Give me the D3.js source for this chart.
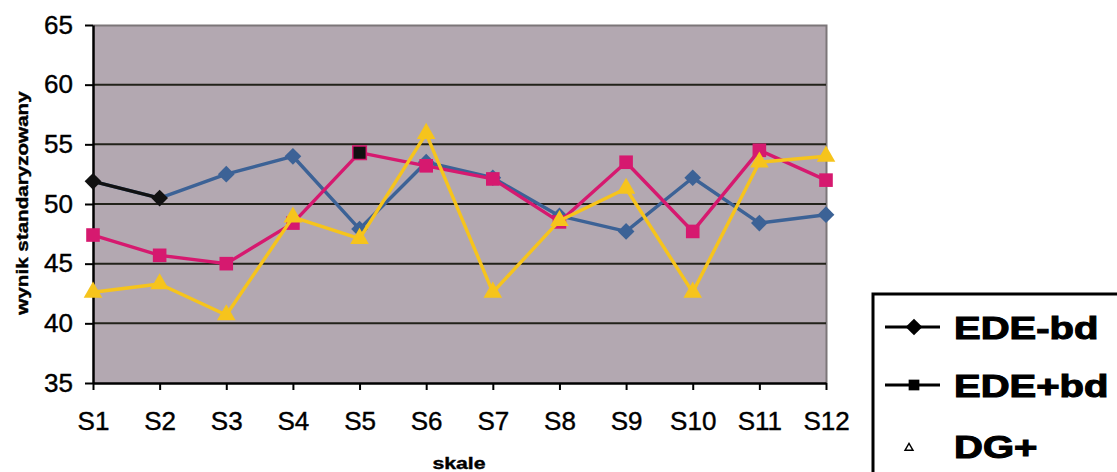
<!DOCTYPE html>
<html>
<head>
<meta charset="utf-8">
<script src="https://cdn.jsdelivr.net/npm/d3@7"></script>
<style>
  html, body { margin: 0; padding: 0; background: #ffffff; }
  svg { display: block; }
</style>
</head>
<body>
<svg id="chart" width="1117" height="472"></svg>
<script>
// Scale labels along the x axis
const categories = ["S1", "S2", "S3", "S4", "S5", "S6", "S7", "S8", "S9", "S10", "S11", "S12"];

// Standardised scores per group
const edeMinusBd = [51.9, 50.5, 52.5, 54.0, 47.9, 53.5, 52.2, 49.0, 47.7, 52.2, 48.4, 49.1];
const edePlusBd  = [47.4, 45.7, 45.0, 48.4, 54.3, 53.2, 52.1, 48.5, 53.5, 47.7, 54.5, 52.0];
const dgPlus     = [42.6, 43.3, 40.7, 48.9, 47.1, 55.9, 42.6, 48.6, 51.3, 42.6, 53.5, 54.0];

const seriesNames = ["EDE-bd", "EDE+bd", "DG+"];
const yTicks = [35, 40, 45, 50, 55, 60, 65];
const xTitle = "skale";
const yTitle = "wynik standaryzowany";

// Diamond = square turned by 45 degrees
const diamond = {
  draw(ctx, size) {
    const r = Math.sqrt(size / 2);
    ctx.moveTo(0, -r); ctx.lineTo(r, 0); ctx.lineTo(0, r); ctx.lineTo(-r, 0); ctx.closePath();
  }
};

// Drawing styles
const styles = [
  { color: "#3c6296", symbol: diamond, size: 140, dark: [0, 1], darkSeg: [0] },
  { color: "#d6196f", symbol: d3.symbolSquare,  size: 185, dark: [4], darkSeg: [] },
  { color: "#f6c41c", symbol: d3.symbolTriangle, size: 150, dark: [], darkSeg: [] }
];
const seriesData = [edeMinusBd, edePlusBd, dgPlus];

const FONT = "Liberation Sans, Arial, sans-serif";
const svg = d3.select("#chart");
const plot = { left: 93, right: 826, top: 25, bottom: 383 };

const x = d3.scalePoint().domain(categories).range([plot.left, plot.right]);
const y = d3.scaleLinear().domain([35, 65]).range([plot.bottom, plot.top]);

// Plot background
svg.append("rect")
  .attr("x", plot.left).attr("y", plot.top)
  .attr("width", plot.right - plot.left).attr("height", plot.bottom - plot.top)
  .attr("fill", "#b3a8b1");

// Frame on top and right
svg.append("path")
  .attr("d", `M${plot.left},${plot.top + 0.5}H${plot.right + 0.5}V${plot.bottom}`)
  .attr("fill", "none").attr("stroke", "#7c7679").attr("stroke-width", 2);

// Horizontal gridlines
svg.append("g")
  .selectAll("line")
  .data(yTicks.filter(t => t > 35 && t < 65))
  .join("line")
  .attr("x1", plot.left).attr("x2", plot.right)
  .attr("y1", d => y(d)).attr("y2", d => y(d))
  .attr("stroke", "#22221a").attr("stroke-width", 2);

// Y axis
const yAxis = svg.append("g")
  .attr("transform", `translate(${plot.left},0)`)
  .call(d3.axisLeft(y).tickValues(yTicks).tickSize(8).tickPadding(12).tickSizeOuter(0));
yAxis.select(".domain").attr("stroke", "#000").attr("stroke-width", 2.5);
yAxis.selectAll(".tick line").attr("stroke", "#000").attr("stroke-width", 2);
yAxis.selectAll(".tick text")
  .attr("font-family", FONT)
  .attr("font-size", 26).attr("fill", "#000")
  .attr("stroke", "#000").attr("stroke-width", 0.4);

// X axis
const xAxis = svg.append("g")
  .attr("transform", `translate(0,${plot.bottom})`)
  .call(d3.axisBottom(x).tickSize(7).tickPadding(22).tickSizeOuter(0));
xAxis.select(".domain").attr("stroke", "#000").attr("stroke-width", 2.5);
xAxis.selectAll(".tick line").attr("stroke", "#000").attr("stroke-width", 2);
xAxis.selectAll(".tick text")
  .attr("font-family", FONT)
  .attr("font-size", 26).attr("fill", "#000")
  .attr("stroke", "#000").attr("stroke-width", 0.4);

// Series lines and markers
const line = d3.line().x((d, i) => x(categories[i])).y(d => y(d));

seriesData.forEach((vals, si) => {
  const st = styles[si];
  const g = svg.append("g");
  g.append("path")
    .attr("d", line(vals))
    .attr("fill", "none").attr("stroke", st.color)
    .attr("stroke-width", 3.4).attr("stroke-linejoin", "round");
  st.darkSeg.forEach(i => {
    g.append("line")
      .attr("x1", x(categories[i])).attr("y1", y(vals[i]))
      .attr("x2", x(categories[i + 1])).attr("y2", y(vals[i + 1]))
      .attr("stroke", "#111").attr("stroke-width", 3.4);
  });
  g.selectAll("path.marker")
    .data(vals)
    .join("path")
    .attr("class", "marker")
    .attr("transform", (d, i) => `translate(${x(categories[i])},${y(d)})`)
    .attr("d", d3.symbol().type(st.symbol).size(st.size))
    .attr("fill", (d, i) => st.dark.includes(i) ? "#111" : st.color)
    .attr("stroke", (d, i) => st.dark.includes(i) && si === 1 ? st.color : "none")
    .attr("stroke-width", 1.5);
});

// Axis titles (wide bold lettering)
svg.append("text")
  .attr("transform", "translate(459,469) scale(1.25,1)")
  .attr("text-anchor", "middle")
  .attr("font-family", FONT)
  .attr("font-weight", "bold").attr("font-size", 17)
  .attr("stroke", "#000").attr("stroke-width", 0.4)
  .text(xTitle);

svg.append("text")
  .attr("transform", "translate(28,203) rotate(-90) scale(1.25,1)")
  .attr("text-anchor", "middle")
  .attr("font-family", FONT)
  .attr("font-weight", "bold").attr("font-size", 16.5)
  .attr("stroke", "#000").attr("stroke-width", 0.4)
  .text(yTitle);

// Legend
const legend = svg.append("g");
legend.append("rect")
  .attr("x", 873).attr("y", 294)
  .attr("width", 260).attr("height", 200)
  .attr("fill", "#fff").attr("stroke", "#000").attr("stroke-width", 3);

const legendY = [327, 385, 446];
seriesNames.forEach((name, i) => {
  const cy = legendY[i];
  if (i < 2) {
    legend.append("line")
      .attr("x1", 885).attr("x2", 940).attr("y1", cy).attr("y2", cy)
      .attr("stroke", "#000").attr("stroke-width", 3);
    legend.append("path")
      .attr("transform", `translate(914,${cy})`)
      .attr("d", d3.symbol().type(styles[i].symbol).size(i === 0 ? 140 : 115))
      .attr("fill", "#000");
  } else {
    legend.append("path")
      .attr("transform", `translate(909,${cy + 2})`)
      .attr("d", d3.symbol().type(d3.symbolTriangle).size(28))
      .attr("fill", "none").attr("stroke", "#000").attr("stroke-width", 1.4);
  }
  legend.append("text")
    .attr("transform", `translate(954,${cy + 12}) scale(1.25,1)`)
    .attr("font-family", FONT)
    .attr("font-weight", "bold").attr("font-size", 32)
    .attr("fill", "#000")
    .attr("stroke", "#000").attr("stroke-width", 1.1)
    .text(name);
});
</script>
</body>
</html>
